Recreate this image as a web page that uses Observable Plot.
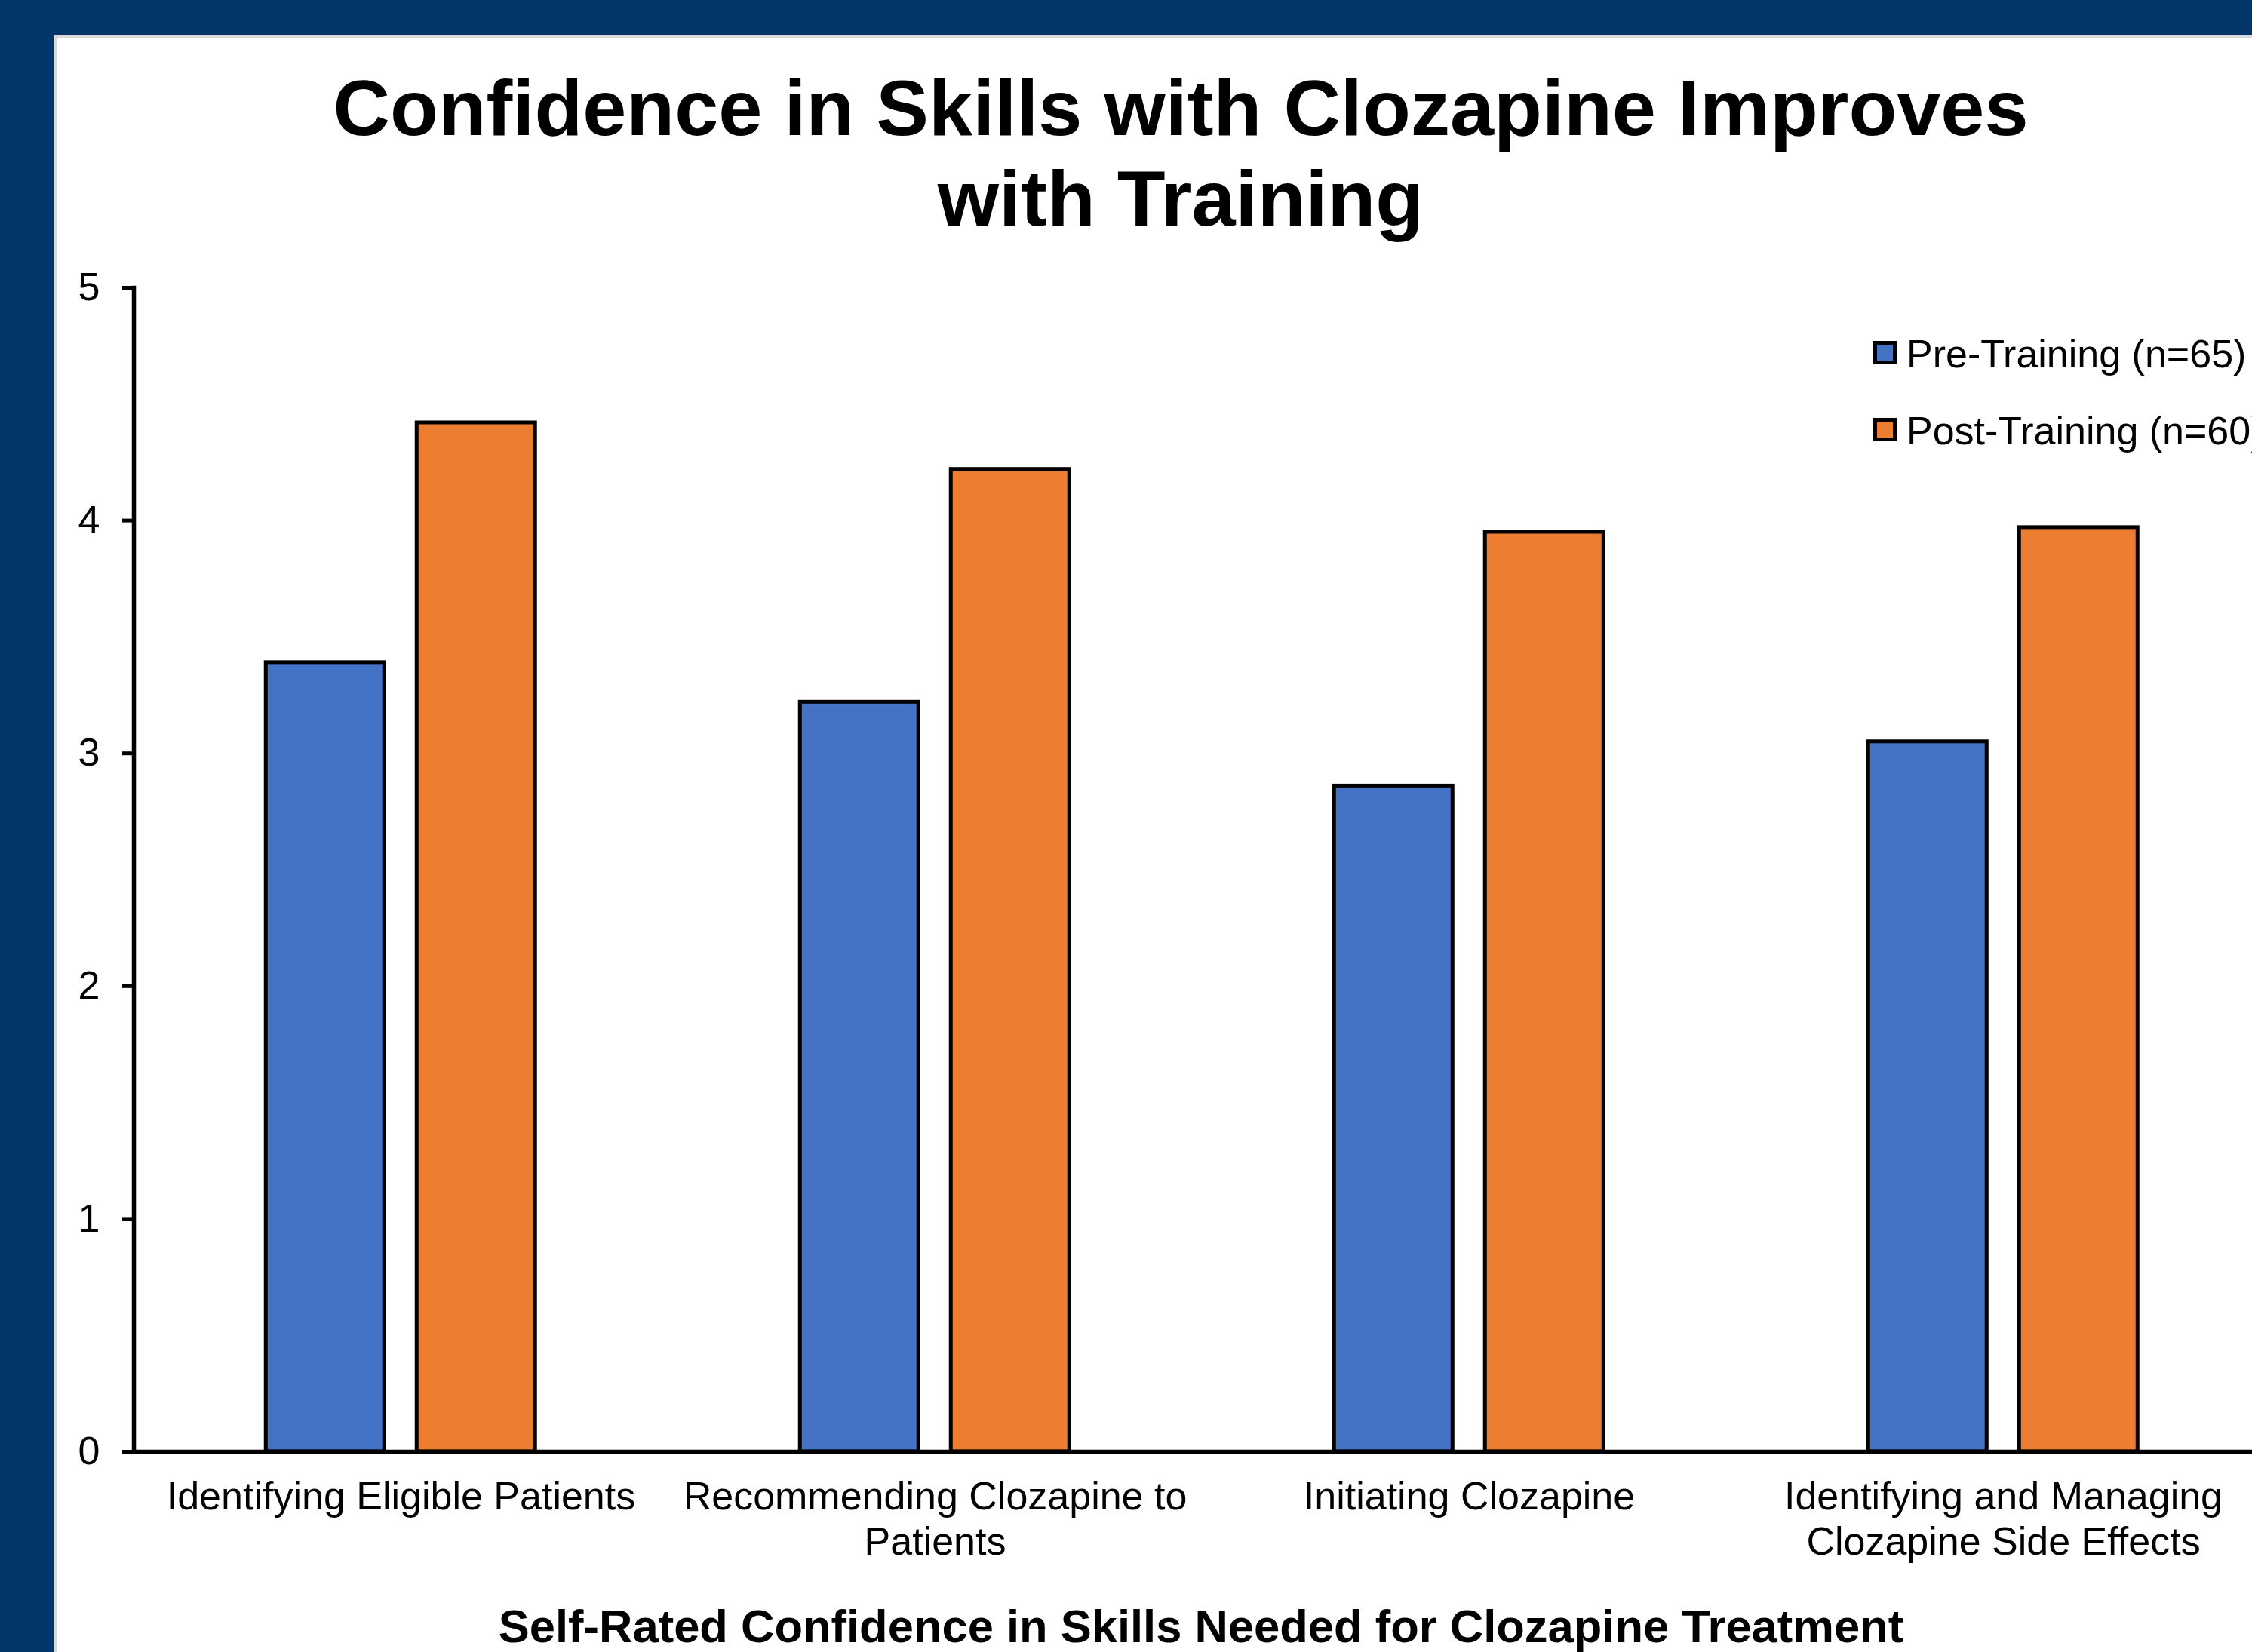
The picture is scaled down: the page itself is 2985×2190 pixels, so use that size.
<!DOCTYPE html>
<html>
<head>
<meta charset="utf-8">
<script src="https://cdn.jsdelivr.net/npm/d3@7"></script>
<script src="https://cdn.jsdelivr.net/npm/@observablehq/plot@0.6"></script>
<style>
  html, body { margin: 0; padding: 0; }
  body { width: 2985px; height: 2190px; overflow: hidden; background: #02366B; position: relative;
         font-family: "Liberation Sans", Arial, sans-serif; color: #000; }
  #panel { position: absolute; left: 71px; top: 46px; right: 0; bottom: 0; background: #fff;
           border-left: 4px solid #d9d9d9; border-top: 4px solid #d9d9d9; }
  #title { position: absolute; left: 1565px; top: 83px; transform: translateX(-50%); white-space: nowrap;
           font-weight: bold; font-size: 104.5px; line-height: 120px; text-align: center; }
  #chart { position: absolute; left: 0; top: 330px; }
  #xtitle { position: absolute; left: 1592px; top: 2125px; transform: translateX(-50%); white-space: nowrap;
            font-weight: bold; font-size: 61.5px; line-height: 61.5px; }
  .legend-row { position: absolute; left: 2483px; white-space: nowrap; font-size: 52px; line-height: 52px; }
  .legend-swatch { position: absolute; left: 0; width: 31px; height: 31px; box-sizing: border-box; border: 5px solid #000; }
  .legend-text { position: absolute; left: 44px; top: 0; }
</style>
</head>
<body>
<div id="panel"></div>
<div id="title"></div>
<div id="chart"></div>
<div id="xtitle"></div>
<div id="legend"></div>
<script>
const titleLines = ["Confidence in Skills with Clozapine Improves", "with Training"];
const xAxisTitle = "Self-Rated Confidence in Skills  Needed for Clozapine Treatment";
const categories = [
  "Identifying Eligible Patients",
  "Recommending Clozapine to Patients",
  "Initiating Clozapine",
  "Identifying and Managing Clozapine Side Effects"
];
const tickLabels = [
  "Identifying Eligible Patients",
  "Recommending Clozapine to\nPatients",
  "Initiating Clozapine",
  "Identifying and Managing\nClozapine Side Effects"
];
const series = ["Pre-Training (n=65)", "Post-Training (n=60)"];
const preValues = [3.39, 3.22, 2.86, 3.05];
const postValues = [4.42, 4.22, 3.95, 3.97];
const yTicks = [0, 1, 2, 3, 4, 5];
const colors = ["#4472C4", "#ED7D31"];

const data = categories.flatMap((c, i) => [
  {category: c, series: series[0], value: preValues[i]},
  {category: c, series: series[1], value: postValues[i]}
]);

document.getElementById("title").innerHTML = titleLines.join("<br>");
document.getElementById("xtitle").textContent = xAxisTitle;

const legend = document.getElementById("legend");
series.forEach((s, i) => {
  const row = document.createElement("div");
  row.className = "legend-row";
  row.style.top = (443 + i * 102) + "px";
  const sw = document.createElement("div");
  sw.className = "legend-swatch";
  sw.style.top = "9px";
  sw.style.background = colors[i];
  const tx = document.createElement("div");
  tx.className = "legend-text";
  tx.textContent = s;
  row.appendChild(sw);
  row.appendChild(tx);
  legend.appendChild(row);
});

const chart = Plot.plot({
  width: 3020,
  height: 1780,
  marginLeft: 175.75,
  marginRight: 10,
  marginTop: 51,
  marginBottom: 186,
  style: {fontFamily: "'Liberation Sans', Arial, sans-serif", background: "transparent", maxWidth: "none", overflow: "visible", color: "#000"},
  fx: {domain: categories, padding: 0, label: null},
  x: {domain: series, paddingInner: 0.214, paddingOuter: 0.869, axis: null},
  y: {domain: [0, 5]},
  color: {domain: series, range: colors},
  marks: [
    Plot.barY(data, {fx: "category", x: "series", y: "value", fill: "series", stroke: "#000", strokeWidth: 5}),
    Plot.ruleY([0], {stroke: "#000", strokeWidth: 5.5}),
    Plot.frame({anchor: "left", facetAnchor: "left", stroke: "#000", strokeWidth: 5.5}),
    Plot.axisY({ticks: yTicks, tickSize: 15, tickPadding: 30, fontSize: 52, strokeWidth: 5, label: null, tickFormat: d => String(d)}),
    Plot.axisFx({anchor: "bottom", tickSize: 0, tickPadding: 34, fontSize: 52, lineHeight: 1.15, label: null,
                 tickFormat: d => tickLabels[categories.indexOf(d)]})
  ]
});
document.getElementById("chart").appendChild(chart);
</script>
</body>
</html>
